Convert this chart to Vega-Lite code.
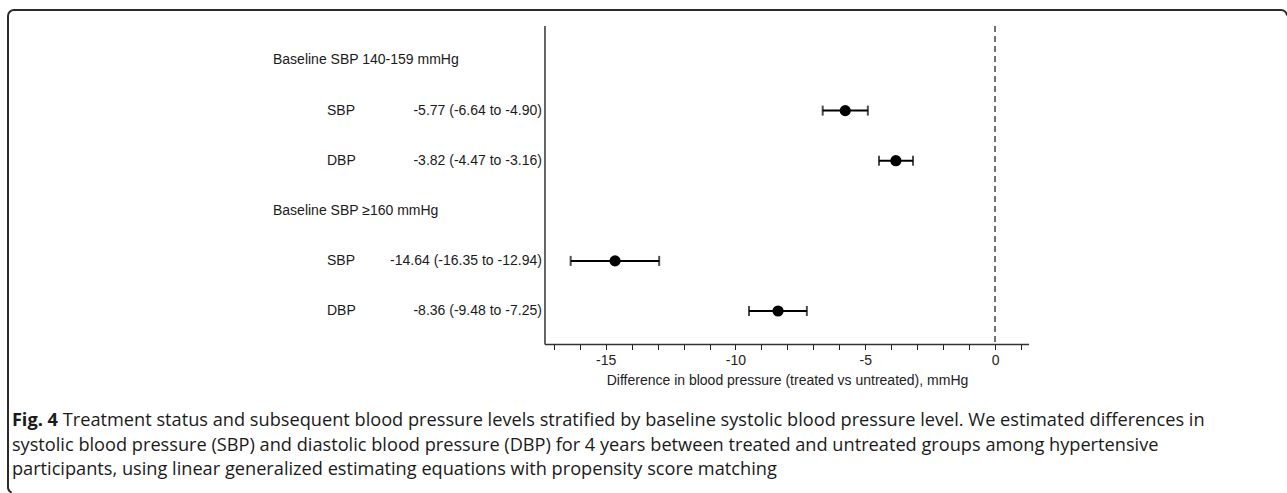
{
  "$schema": "https://vega.github.io/schema/vega-lite/v6.json",
  "width": 1279,
  "height": 483,
  "autosize": {"type": "none"},
  "padding": {"left": 8, "top": 10, "right": 0, "bottom": 0},
  "background": "white",
  "config": {
    "view": {"stroke": "#2b2b2b", "strokeWidth": 2, "cornerRadius": 6, "strokeDash": [1276, 1750, 490, 20]},
    "font": "Liberation Sans",
    "text": {"font": "Liberation Sans", "fontSize": 14, "color": "#1a1a1a"},
    "axisX": {
      "domain": false, "grid": false, "ticks": true, "tickSize": 5, "tickColor": "#222", "tickWidth": 1,
      "labelFont": "Liberation Sans", "labelFontSize": 14, "labelColor": "#222", "labelPadding": 4,
      "labelFlush": false, "labelOverlap": false,
      "offset": -148.5,
      "titleFont": "Liberation Sans", "titleFontSize": 14, "titleFontWeight": "normal", "titleColor": "#222",
      "titleX": 779, "titleY": 36, "titleBaseline": "middle", "titleAlign": "center"
    }
  },
  "datasets": {
    "rows": [
      {"row": 0, "type": "header", "text": "Baseline SBP 140-159 mmHg"},
      {"row": 1, "type": "est", "measure": "SBP", "est": -5.77, "lo": -6.64, "hi": -4.90, "ci": "-5.77 (-6.64 to -4.90)"},
      {"row": 2, "type": "est", "measure": "DBP", "est": -3.82, "lo": -4.47, "hi": -3.16, "ci": "-3.82 (-4.47 to -3.16)"},
      {"row": 3, "type": "header", "text": "Baseline SBP ≥160 mmHg"},
      {"row": 4, "type": "est", "measure": "SBP", "est": -14.64, "lo": -16.35, "hi": -12.94, "ci": "-14.64 (-16.35 to -12.94)"},
      {"row": 5, "type": "est", "measure": "DBP", "est": -8.36, "lo": -9.48, "hi": -7.25, "ci": "-8.36 (-9.48 to -7.25)"}
    ],
    "fig": [{"text": "Fig. 4"}],
    "cap1": [{"text": "Treatment status and subsequent blood pressure levels stratified by baseline systolic blood pressure level. We estimated differences in"}],
    "cap2": [{"text": "systolic blood pressure (SBP) and diastolic blood pressure (DBP) for 4 years between treated and untreated groups among hypertensive"}],
    "cap3": [{"text": "participants, using linear generalized estimating equations with propensity score matching"}],
    "one": [{}]
  },
  "data": {"name": "rows"},
  "layer": [
    {
      "transform": [{"filter": "datum.type === 'est'"}],
      "mark": {"type": "rule", "color": "#000", "strokeWidth": 2},
      "encoding": {
        "x": {
          "field": "lo", "type": "quantitative",
          "scale": {"domain": [-38.03, 11.25], "nice": false, "zero": false},
          "title": "Difference in blood pressure (treated vs untreated), mmHg",
          "axis": {
            "values": [-17, -16, -15, -14, -13, -12, -11, -10, -9, -8, -7, -6, -5, -4, -3, -2, -1, 0, 1],
            "labelExpr": "datum.value % 5 === 0 ? toString(datum.value) : ''"
          }
        },
        "x2": {"field": "hi"},
        "y": {"field": "row", "type": "quantitative", "scale": {"domain": [-1.008, 8.633], "reverse": true, "nice": false, "zero": false}, "axis": null}
      }
    },
    {
      "transform": [{"filter": "datum.type === 'est'"}],
      "mark": {"type": "tick", "orient": "vertical", "color": "#000", "size": 10, "thickness": 2},
      "encoding": {
        "x": {"field": "lo", "type": "quantitative", "title": "Difference in blood pressure (treated vs untreated), mmHg"},
        "y": {"field": "row", "type": "quantitative", "axis": null}
      }
    },
    {
      "transform": [{"filter": "datum.type === 'est'"}],
      "mark": {"type": "tick", "orient": "vertical", "color": "#000", "size": 10, "thickness": 2},
      "encoding": {
        "x": {"field": "hi", "type": "quantitative", "title": "Difference in blood pressure (treated vs untreated), mmHg"},
        "y": {"field": "row", "type": "quantitative", "axis": null}
      }
    },
    {
      "transform": [{"filter": "datum.type === 'est'"}],
      "mark": {"type": "circle", "color": "#000", "opacity": 1, "size": 125},
      "encoding": {
        "x": {"field": "est", "type": "quantitative", "title": "Difference in blood pressure (treated vs untreated), mmHg"},
        "y": {"field": "row", "type": "quantitative", "axis": null}
      }
    },
    {
      "transform": [{"filter": "datum.type === 'header'"}],
      "mark": {"type": "text", "align": "left", "baseline": "middle"},
      "encoding": {
        "x": {"datum": -27.82, "type": "quantitative", "title": "Difference in blood pressure (treated vs untreated), mmHg"},
        "y": {"field": "row", "type": "quantitative", "axis": null},
        "text": {"field": "text"}
      }
    },
    {
      "transform": [{"filter": "datum.type === 'est'"}],
      "mark": {"type": "text", "align": "left", "baseline": "middle"},
      "encoding": {
        "x": {"datum": -25.74, "type": "quantitative", "title": "Difference in blood pressure (treated vs untreated), mmHg"},
        "y": {"field": "row", "type": "quantitative", "axis": null},
        "text": {"field": "measure"}
      }
    },
    {
      "transform": [{"filter": "datum.type === 'est'"}],
      "mark": {"type": "text", "align": "right", "baseline": "middle"},
      "encoding": {
        "x": {"datum": -17.46, "type": "quantitative", "title": "Difference in blood pressure (treated vs untreated), mmHg"},
        "y": {"field": "row", "type": "quantitative", "axis": null},
        "text": {"field": "ci"}
      }
    },
    {
      "data": {"name": "one"},
      "mark": {"type": "rule", "color": "#333", "strokeWidth": 1.5},
      "encoding": {
        "x": {"datum": -17.34, "type": "quantitative", "title": "Difference in blood pressure (treated vs untreated), mmHg"},
        "y": {"datum": -0.689, "type": "quantitative", "axis": null},
        "y2": {"datum": 5.669}
      }
    },
    {
      "data": {"name": "one"},
      "mark": {"type": "rule", "color": "#333", "strokeWidth": 1.5},
      "encoding": {
        "x": {"datum": -17.34, "type": "quantitative", "title": "Difference in blood pressure (treated vs untreated), mmHg"},
        "x2": {"datum": 1.31},
        "y": {"datum": 5.669, "type": "quantitative", "axis": null}
      }
    },
    {
      "data": {"name": "one"},
      "mark": {"type": "rule", "color": "#444", "strokeWidth": 1.5, "strokeDash": [6, 4]},
      "encoding": {
        "x": {"datum": 0, "type": "quantitative", "title": "Difference in blood pressure (treated vs untreated), mmHg"},
        "y": {"datum": -0.689, "type": "quantitative", "axis": null},
        "y2": {"datum": 5.669}
      }
    },
    {
      "data": {"name": "fig"},
      "mark": {"type": "text", "align": "left", "baseline": "middle", "font": "Open Sans", "fontSize": 18.2, "fontWeight": "bold", "color": "#1a1a1a"},
      "encoding": {
        "x": {"datum": -37.88, "type": "quantitative", "title": "Difference in blood pressure (treated vs untreated), mmHg"},
        "y": {"datum": 7.196, "type": "quantitative", "axis": null},
        "text": {"field": "text"}
      }
    },
    {
      "data": {"name": "cap1"},
      "mark": {"type": "text", "align": "left", "baseline": "middle", "font": "Open Sans", "fontSize": 18.2, "color": "#1a1a1a"},
      "encoding": {
        "x": {"datum": -35.92, "type": "quantitative", "title": "Difference in blood pressure (treated vs untreated), mmHg"},
        "y": {"datum": 7.196, "type": "quantitative", "axis": null},
        "text": {"field": "text"}
      }
    },
    {
      "data": {"name": "cap2"},
      "mark": {"type": "text", "align": "left", "baseline": "middle", "font": "Open Sans", "fontSize": 18.2, "color": "#1a1a1a"},
      "encoding": {
        "x": {"datum": -37.88, "type": "quantitative", "title": "Difference in blood pressure (treated vs untreated), mmHg"},
        "y": {"datum": 7.695, "type": "quantitative", "axis": null},
        "text": {"field": "text"}
      }
    },
    {
      "data": {"name": "cap3"},
      "mark": {"type": "text", "align": "left", "baseline": "middle", "font": "Open Sans", "fontSize": 18.2, "color": "#1a1a1a"},
      "encoding": {
        "x": {"datum": -37.88, "type": "quantitative", "title": "Difference in blood pressure (treated vs untreated), mmHg"},
        "y": {"datum": 8.174, "type": "quantitative", "axis": null},
        "text": {"field": "text"}
      }
    }
  ]
}
